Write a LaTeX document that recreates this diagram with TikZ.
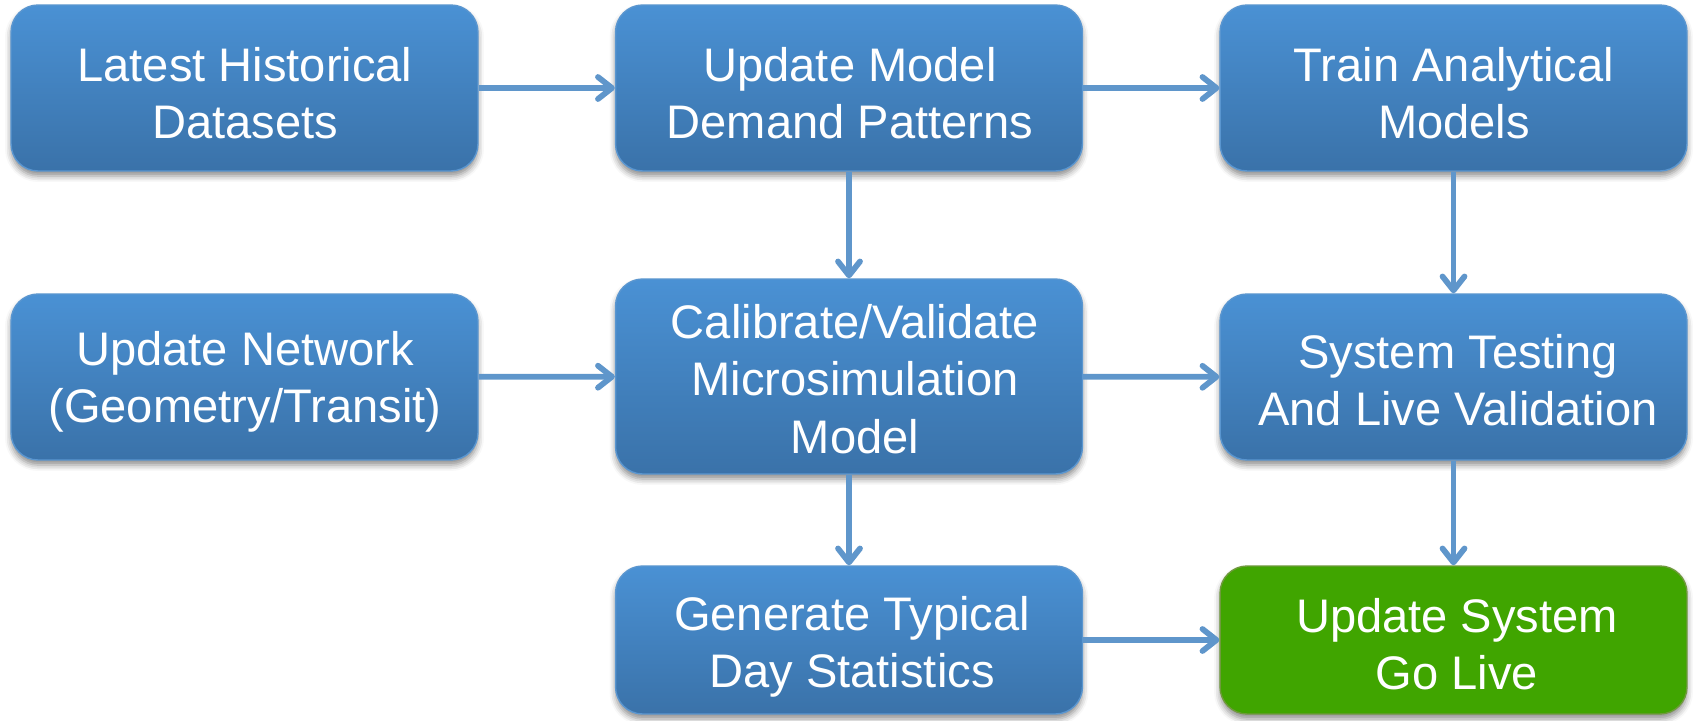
\documentclass[tikz,border=0pt]{standalone}
\usepackage{fontspec}
\setmainfont{Liberation Sans}
\usetikzlibrary{arrows.meta,shadows.blur}

\definecolor{boxtop}{HTML}{4A91D4}
\definecolor{boxbot}{HTML}{3A72A9}
\definecolor{boxline}{HTML}{5A96D0}
\definecolor{gofill}{HTML}{40A500}
\definecolor{goline}{HTML}{6F9A3C}
\definecolor{flow}{HTML}{5F96CB}

\tikzset{
  stepbox/.style={
    rectangle, rounded corners=0.54cm, inner sep=0pt,
    minimum width=9.34cm, minimum height=3.32cm,
    top color=boxtop, bottom color=boxbot, draw=boxline, line width=0.8pt,
    blur shadow={shadow xshift=0pt, shadow yshift=-0.1cm,
                 shadow blur radius=0.12cm, shadow opacity=45}
  },
  tallbox/.style={stepbox, minimum height=3.9cm},
  lowbox/.style={stepbox, minimum height=2.96cm},
  livebox/.style={lowbox, top color=gofill, bottom color=gofill, draw=goline},
  boxtext/.style={align=center, text=white, inner sep=0pt,
    font=\fontsize{26.8pt}{32.8pt}\selectfont},
  flowarrow/.style={draw=flow, line width=0.115cm,
    -{Straight Barb[length=0.28cm, width=0.44cm, line cap=round, line join=round]}}
}

\begin{document}
\begin{tikzpicture}[x=0.02cm, y=-0.02cm]
  \useasboundingbox (0,0) rectangle (1696,720);

  % top row
  \node[stepbox] (hist)   at (244.5,88) {};
  \node[stepbox] (demand) at (849,88) {};
  \node[stepbox] (train)  at (1453.5,88) {};

  % middle row
  \node[stepbox] (net)    at (244.5,377) {};
  \node[tallbox] (calib)  at (849,376.5) {};
  \node[stepbox] (test)   at (1453.5,377) {};

  % bottom row
  \node[lowbox]  (stats)  at (849,640) {};
  \node[livebox] (live)   at (1453.5,640) {};

  % box captions, set a little below the box centres
  \node[boxtext] (hist-t)   at (245,93)    {Latest Historical\\Datasets};
  \node[boxtext] (demand-t) at (850,93)    {Update Model\\Demand Patterns};
  \node[boxtext] (train-t)  at (1454,93)   {Train Analytical\\Models};
  \node[boxtext] (net-t)    at (245,382)   {Update Network\\(Geometry/Transit)};
  \node[boxtext] (calib-t)  at (855,379)   {Calibrate/Validate\\Microsimulation\\Model};
  \node[boxtext] (test-t)   at (1458,380)  {System Testing\\And Live Validation};
  \node[boxtext] (stats-t)  at (852,647)   {Generate Typical\\Day Statistics};
  \node[boxtext] (live-t)   at (1457,644)  {Update System\\Go Live};

  % connectors
  \draw[flowarrow] (hist)   -- (demand);
  \draw[flowarrow] (demand) -- (train);
  \draw[flowarrow] (demand) -- (calib);
  \draw[flowarrow] (train)  -- (test);
  \draw[flowarrow] (net)    -- (calib);
  \draw[flowarrow] (calib)  -- (test);
  \draw[flowarrow] (calib)  -- (stats);
  \draw[flowarrow] (test)   -- (live);
  \draw[flowarrow] (stats)  -- (live);
\end{tikzpicture}
\end{document}
